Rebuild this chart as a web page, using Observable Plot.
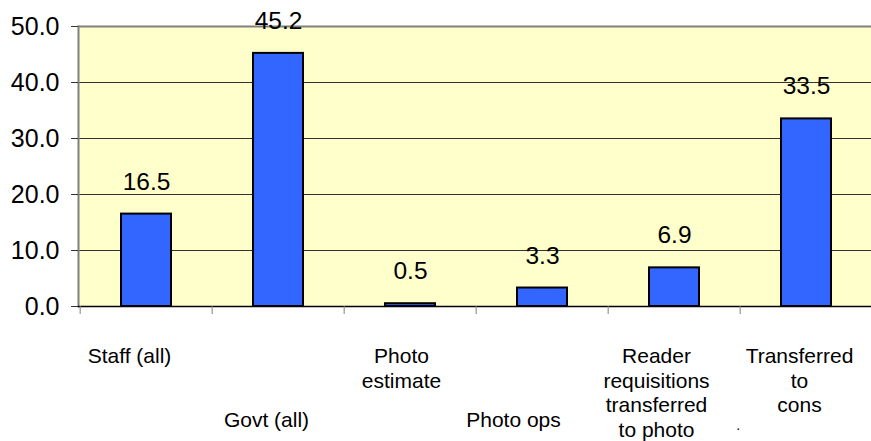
<!DOCTYPE html>
<html><head><meta charset="utf-8">
<script src="https://cdn.jsdelivr.net/npm/d3@7"></script>
<script src="https://cdn.jsdelivr.net/npm/@observablehq/plot@0.6"></script>
<style>body{margin:0;background:#fff;} svg{display:block;}</style>
</head><body><div id="chart"></div>
<script>
const categories = ["Staff (all)", "Govt (all)", "Photo estimate", "Photo ops", "Reader requisitions transferred to photo", "Transferred to cons"];
const labelLines = [["Staff (all)"], ["Govt (all)"], ["Photo", "estimate"], ["Photo ops"], ["Reader", "requisitions", "transferred", "to photo"], ["Transferred", "to", "cons"]];
const values = [16.5, 45.2, 0.5, 3.3, 6.9, 33.5];
const yTicks = [0, 10, 20, 30, 40, 50];

// layout / style (not data)
const W = 871, H = 441, ML = 78, MT = 26, MB = 135, XR = 874;
const step = (XR - ML) / categories.length;
const labelRow = [0, 1, 0, 1, 0, 0];
const labelShift = [-17, -12, -9, -29, -18, -7];
const font = "'Liberation Sans', Arial, sans-serif";

const data = categories.map((c, i) => ({cat: c, value: values[i], label: labelLines[i].join("\n")}));

const labelMarks = data.map((d, i) => Plot.text([d], {
  x: "cat", text: "label", frameAnchor: "bottom", lineAnchor: "top",
  dy: labelRow[i] ? 103 : 38.5, dx: labelShift[i], fontSize: 21, lineHeight: 1.185, fill: "#000"
}));

const chart = Plot.plot({
  width: W, height: H, marginLeft: ML, marginRight: 0, marginTop: MT, marginBottom: MB,
  style: {fontFamily: font, background: "#fff", overflow: "visible", color: "#000"},
  x: {domain: categories, range: [ML, XR], padding: 0, axis: null, label: null},
  y: {domain: [0, 50], axis: null, label: null},
  marks: [
    Plot.frame({fill: "#FFFFCC", stroke: null}),
    Plot.ruleY([10, 20, 30, 40], {stroke: "#333", strokeWidth: 1}),
    Plot.ruleY([50], {stroke: "#808080", strokeWidth: 2}),
    Plot.barY(data, {x: "cat", y: "value", fill: "#3366FF", stroke: "#000", strokeWidth: 2, insetLeft: 41, insetRight: 41}),
    Plot.frame({anchor: "left", stroke: "#808080", strokeWidth: 2}),
    Plot.ruleY([0], {stroke: "#000", strokeWidth: 1.5}),
    Plot.axisY({ticks: yTicks, tickSize: 7, tickPadding: 12, tickFormat: d => d.toFixed(1), fontSize: 25, stroke: "#333", fill: "#000", label: null}),
    Plot.axisX({tickSize: 8, tickFormat: () => "", dx: -step / 2, stroke: "#808080", label: null}),
    Plot.text(data, {x: "cat", y: "value", text: d => d.value.toFixed(1), lineAnchor: "bottom", dy: -24.5, fontSize: 24.5, fill: "#000"}),
    ...labelMarks,
    Plot.text(["."], {x: () => categories[5], text: d => d, frameAnchor: "bottom", lineAnchor: "bottom", dx: -step / 2 - 2, dy: 123, fontSize: 14, fill: "#000"})
  ]
});
document.getElementById("chart").appendChild(chart);
</script>
</body></html>
